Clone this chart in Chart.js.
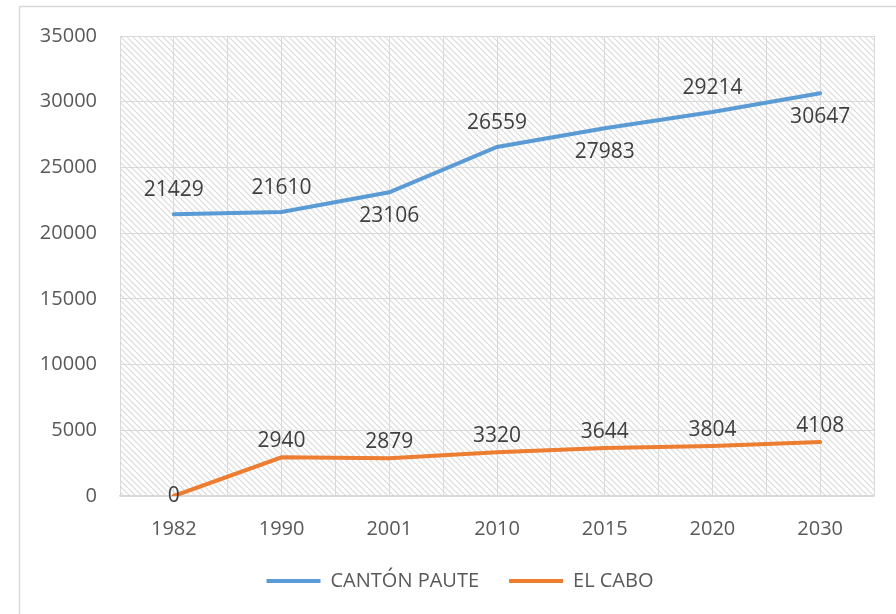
<!DOCTYPE html>
<html>
<head>
    <meta charset="utf-8">
    <title>Población Cantón Paute y El Cabo</title>
    <script src="https://cdn.jsdelivr.net/npm/chart.js"></script>
    <style>
        html, body { margin: 0; padding: 0; background: #ffffff; }
        #wrap { width: 896px; height: 614px; }
    </style>
</head>
<body>
    <div id="wrap"><canvas id="poblacionChart" width="896" height="614"></canvas></div>
    <script>
        // Years and population per series
        var years = ['1982', '1990', '2001', '2010', '2015', '2020', '2030'];
        var cantonPaute = [21429, 21610, 23106, 26559, 27983, 29214, 30647];
        var elCabo = [0, 2940, 2879, 3320, 3644, 3804, 4108];

        // Y axis range and step
        var yMin = 0;
        var yMax = 35000;
        var yStep = 5000;

        // Where each value label sits relative to its point
        var pauteLabelSide = ['above', 'above', 'below', 'above', 'below', 'above', 'below'];
        var caboLabelSide = ['center', 'above', 'above', 'above', 'above', 'above', 'above'];

        var fontFamily = '"Open Sans", "Liberation Sans", sans-serif';
        var gridColor = '#d9d9d9';

        // diagonal hatch used to fill the plot area
        function makeHatch(ctx) {
            var tile = document.createElement('canvas');
            tile.width = 6;
            tile.height = 6;
            var t = tile.getContext('2d');
            t.strokeStyle = '#dadada';
            t.lineWidth = 1.2;
            t.beginPath();
            t.moveTo(-1, -1); t.lineTo(7, 7);
            t.moveTo(-1, 5); t.lineTo(1, 7);
            t.moveTo(5, -1); t.lineTo(7, 1);
            t.stroke();
            return ctx.createPattern(tile, 'repeat');
        }

        var backgroundPlugin = {
            id: 'background',
            afterLayout: function (chart) {
                // nudge the legend a little to the right
                chart.legend.left += 13;
                chart.legend.right += 13;
            },
            beforeDraw: function (chart) {
                var ctx = chart.ctx;
                var a = chart.chartArea;
                ctx.save();
                ctx.strokeStyle = gridColor;
                ctx.lineWidth = 1.5;
                ctx.strokeRect(19.5, 6.5, 1000, 1000);
                ctx.fillStyle = makeHatch(ctx);
                ctx.fillRect(a.left, a.top, a.right - a.left, a.bottom - a.top);
                ctx.restore();
            }
        };

        var valueLabelPlugin = {
            id: 'valueLabels',
            afterDatasetsDraw: function (chart) {
                var ctx = chart.ctx;
                var sides = [pauteLabelSide, caboLabelSide];
                var gaps = [24, 16];
                ctx.save();
                ctx.font = '21px ' + fontFamily;
                ctx.fillStyle = '#404040';
                ctx.textAlign = 'center';
                ctx.textBaseline = 'middle';
                chart.data.datasets.forEach(function (ds, di) {
                    var meta = chart.getDatasetMeta(di);
                    meta.data.forEach(function (pt, i) {
                        var side = sides[di][i];
                        var y = pt.y;
                        if (side === 'above') y -= gaps[di];
                        if (side === 'below') y += gaps[di];
                        ctx.fillText(String(ds.data[i]), pt.x, y);
                    });
                });
                ctx.restore();
            }
        };

        var ctx = document.getElementById('poblacionChart').getContext('2d');
        var poblacionChart = new Chart(ctx, {
            type: 'line',
            data: {
                labels: years,
                datasets: [{
                    label: 'CANTÓN PAUTE',
                    data: cantonPaute,
                    borderColor: '#5b9bd5',
                    backgroundColor: '#5b9bd5',
                    borderWidth: 4,
                    borderCapStyle: 'round',
                    pointRadius: 0,
                    pointStyle: 'line',
                    tension: 0
                }, {
                    label: 'EL CABO',
                    data: elCabo,
                    borderColor: '#ed7d31',
                    backgroundColor: '#ed7d31',
                    borderWidth: 4,
                    borderCapStyle: 'round',
                    pointRadius: 0,
                    pointStyle: 'line',
                    tension: 0
                }]
            },
            options: {
                responsive: false,
                animation: false,
                layout: {
                    padding: { left: 20, right: 22, top: 36, bottom: 13 }
                },
                plugins: {
                    tooltip: { enabled: false },
                    legend: {
                        position: 'bottom',
                        labels: {
                            usePointStyle: true,
                            pointStyleWidth: 54,
                            color: '#595959',
                            padding: 30,
                            font: { family: fontFamily, size: 20 }
                        }
                    }
                },
                scales: {
                    x: {
                        offset: true,
                        grid: { color: gridColor, offset: false, drawTicks: false },
                        border: { color: gridColor, width: 1.5 },
                        ticks: {
                            color: '#595959',
                            padding: 21,
                            maxRotation: 0,
                            font: { family: fontFamily, size: 20 }
                        },
                        afterFit: function (scale) { scale.height = 45; }
                    },
                    // second category axis only for the gridlines between years
                    x2: {
                        position: 'bottom',
                        labels: years,
                        offset: true,
                        grid: { color: gridColor, offset: true, drawTicks: false },
                        border: { display: false },
                        ticks: { display: false },
                        afterFit: function (scale) { scale.height = 0; }
                    },
                    y: {
                        min: yMin,
                        max: yMax,
                        ticks: {
                            stepSize: yStep,
                            color: '#595959',
                            padding: 23,
                            font: { family: fontFamily, size: 20 },
                            callback: function (value) { return String(value); }
                        },
                        grid: { color: gridColor, drawTicks: false },
                        border: { display: false },
                        afterFit: function (scale) { scale.width = 100; }
                    }
                }
            },
            plugins: [backgroundPlugin, valueLabelPlugin]
        });
    </script>
</body>
</html>
